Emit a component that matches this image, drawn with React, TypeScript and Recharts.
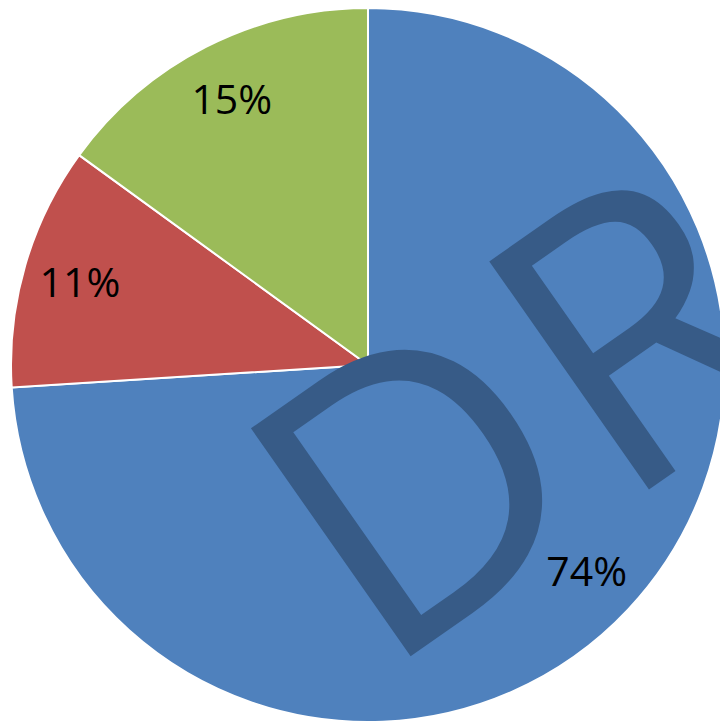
import { PieChart, Pie, Cell } from 'recharts'

const categories = ['Series A', 'Series B', 'Series C']
const values = [74, 11, 15]
const colors = ['#4f81bd', '#c0504d', '#9bbb59']
const watermark = 'DR'

const data = categories.map((name, i) => ({ name, value: values[i] }))

const RADIAN = Math.PI / 180

const renderLabel = (props: any) => {
  const { cx, cy, midAngle, value } = props
  const r = 300
  const x = cx + r * Math.cos(-midAngle * RADIAN)
  const y = cy + r * Math.sin(-midAngle * RADIAN)
  return (
    <text
      x={x}
      y={y}
      fill="#000"
      fontSize={41}
      fontFamily="'Open Sans', sans-serif"
      textAnchor="middle"
      dominantBaseline="central"
    >
      {`${value}%`}
    </text>
  )
}

export default function App() {
  return (
    <div style={{ position: 'fixed', left: 0, top: 0, width: 720, height: 726, overflow: 'hidden', background: '#fff' }}>
      <PieChart width={720} height={726} margin={{ top: 0, right: 0, bottom: 0, left: 0 }}>
        <Pie
          data={data}
          dataKey="value"
          nameKey="name"
          cx={368}
          cy={365}
          outerRadius={357}
          startAngle={90}
          endAngle={-270}
          stroke="#fff"
          strokeWidth={2}
          label={renderLabel}
          labelLine={false}
          isAnimationActive={false}
        >
          {data.map((d, i) => (
            <Cell key={d.name} fill={colors[i]} />
          ))}
        </Pie>
      </PieChart>
      {/* watermark, clipped at the right edge like the original */}
      <svg width={720} height={726} style={{ position: 'absolute', left: 0, top: 0, pointerEvents: 'none' }}>
        <text
          transform="translate(404,661) rotate(-35)"
          x={-30}
          y={0}
          fontSize={390}
          fontFamily="'Open Sans', sans-serif"
          fill="#375b87"
          letterSpacing={8}
        >
          {watermark}
        </text>
      </svg>
    </div>
  )
}
